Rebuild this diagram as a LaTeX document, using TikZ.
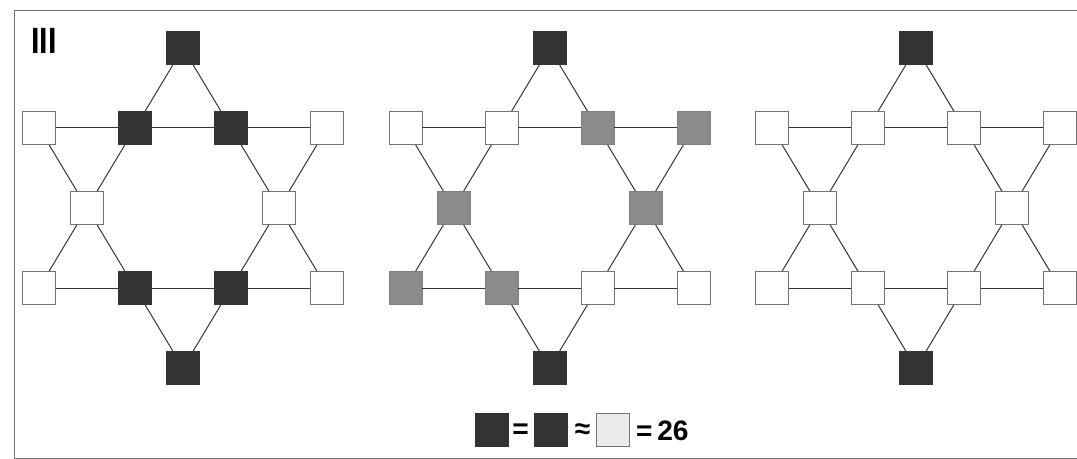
\documentclass[tikz,border=0pt]{standalone}
\usepackage{fontspec}
\setmainfont{Liberation Sans}
\usetikzlibrary{positioning}
\tikzstyle{sq}=[draw=black!55, line width=0.8pt, minimum size=0.99cm, inner sep=0pt, fill=white]
\tikzstyle{wh}=[sq]
\tikzstyle{dk}=[sq, fill=black!80, draw=black!80]
\tikzstyle{gr}=[sq, fill=black!45, draw=black!50]
\tikzstyle{lt}=[sq, fill=black!8]
\tikzstyle{link}=[line width=0.85pt, black!80]
\tikzstyle{big}=[font=\bfseries\fontsize{24}{24}\selectfont, inner sep=0pt]

\begin{document}
\begin{tikzpicture}[x=0.03cm, y=-0.03cm]
    \useasboundingbox (0,0) rectangle (1077,459);
    \def\cy{208};

    % 枠
    \draw[black!55, line width=0.8pt] (14,10) rectangle (1090,458);
    \node[big, font=\bfseries\fontsize{26}{26}\selectfont, yscale=1.2, transform shape] (num) at (44,41) {III};

    % 左の星
    \def\cx{183};
    \foreach \n/\x/\y/\s in {t/0/-160/dk, a1/-144/-80/wh, a2/-48/-80/dk, a3/48/-80/dk, a4/144/-80/wh,
        m1/-96/0/wh, m2/96/0/wh, b1/-144/80/wh, b2/-48/80/dk, b3/48/80/dk, b4/144/80/wh, u/0/160/dk}
      \node[\s] (L\n) at (\cx+\x, \cy+\y) {};

    % 中央の星
    \def\cx{549.5};
    \foreach \n/\x/\y/\s in {t/0/-160/dk, a1/-144/-80/wh, a2/-48/-80/wh, a3/48/-80/gr, a4/144/-80/gr,
        m1/-96/0/gr, m2/96/0/gr, b1/-144/80/gr, b2/-48/80/gr, b3/48/80/wh, b4/144/80/wh, u/0/160/dk}
      \node[\s] (M\n) at (\cx+\x, \cy+\y) {};

    % 右の星
    \def\cx{916};
    \foreach \n/\x/\y/\s in {t/0/-160/dk, a1/-144/-80/wh, a2/-48/-80/wh, a3/48/-80/wh, a4/144/-80/wh,
        m1/-96/0/wh, m2/96/0/wh, b1/-144/80/wh, b2/-48/80/wh, b3/48/80/wh, b4/144/80/wh, u/0/160/dk}
      \node[\s] (R\n) at (\cx+\x, \cy+\y) {};

    % 辺
    \foreach \g in {L,M,R}
      \foreach \p/\q in {t/a2, t/a3, a1/a2, a2/a3, a3/a4, a1/m1, a2/m1, a3/m2, a4/m2,
          m1/b1, m1/b2, m2/b3, m2/b4, b1/b2, b2/b3, b3/b4, b2/u, b3/u}
        \draw[link] (\g\p) -- (\g\q);

    % 凡例
    \node[dk] (k1) at (492,430) {};
    \node[dk] (k2) at (551,430) {};
    \node[lt] (k3) at (613,430) {};
    \node[big] (eq1) at (520.5,431) {=};
    \node[big] (eq2) at (582.5,431) {≈};
    \node[big, anchor=west] (sum) at (636,431) {=\,26};
\end{tikzpicture}
\end{document}
